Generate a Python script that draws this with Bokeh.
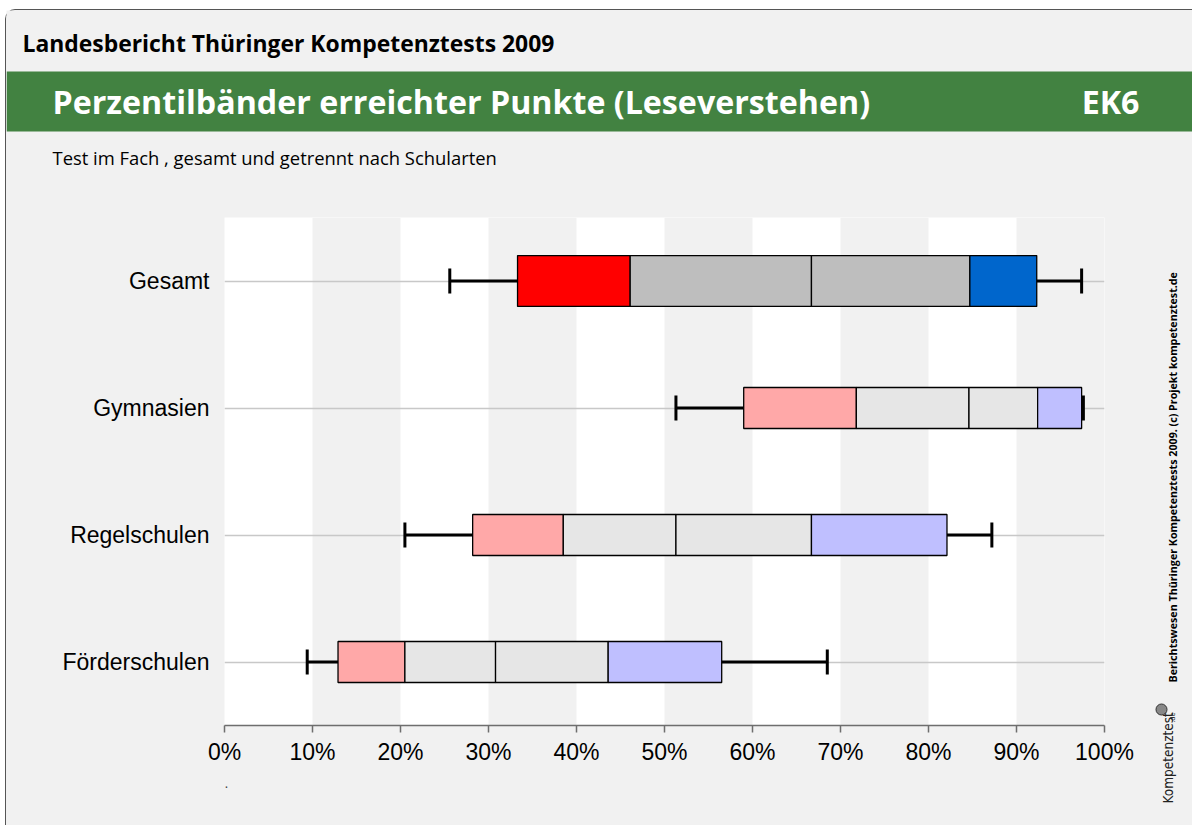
import math
from bokeh.plotting import figure
from bokeh.models import (Range1d, FactorRange, ColumnDataSource, FixedTicker,
                          PrintfTickFormatter, Title)
from bokeh.layouts import column, row
from bokeh.core.properties import value
from bokeh.embed import file_html
from bokeh.resources import INLINE

# ---------------- data ----------------
groups = ["Gesamt", "Gymnasien", "Regelschulen", "Förderschulen"]
p05 = [25.6, 51.3, 20.5, 9.4]
p10 = [33.3, 59.0, 28.2, 12.9]
p25 = [46.1, 71.8, 38.5, 20.5]
p50 = [66.7, 84.6, 51.3, 30.8]
p75 = [84.7, 92.4, 66.7, 43.6]
p90 = [92.3, 97.4, 82.1, 56.5]
p95 = [97.4, 97.6, 87.2, 68.5]
x_ticks = [0, 10, 20, 30, 40, 50, 60, 70, 80, 90, 100]

header_text = "Landesbericht Thüringer Kompetenztests 2009"
title_text = "Perzentilbänder erreichter Punkte (Leseverstehen)"
code_text = "EK6"
subtitle_text = "Test im Fach , gesamt und getrennt nach Schularten"
side_text = "Berichtswesen  Thüringer Kompetenztests 2009.  (c) Projekt kompetenztest.de"
logo_text = "Kompetenztest"

# ---------------- style ----------------
BG = "#f1f1f1"
GREEN = "#428241"
strong = ["#ff0000", "#bebebe", "#bebebe", "#0066cc"]
pale = ["#ffa8a8", "#e6e6e6", "#e6e6e6", "#bfbfff"]
HEAD_FONT = "Open Sans"
AX_FONT = "Liberation Sans"

W = 1186
TOTAL_H = 815
HEAD_H = 197
SIDE_W = 44
CHART_W = W - SIDE_W
CHART_H = TOTAL_H - HEAD_H
BAND_TOP, BAND_BOT = 61, 121


def blank(fig):
    fig.axis.visible = False
    fig.grid.visible = False
    fig.background_fill_color = BG
    fig.border_fill_color = BG
    fig.outline_line_color = None


# ---------------- header (full width) ----------------
head = figure(width=W, height=HEAD_H, x_range=Range1d(0, W),
              y_range=Range1d(HEAD_H, 0), toolbar_location=None,
              output_backend="svg", min_border=0)
blank(head)
head.quad(left=0, right=W, top=BAND_TOP, bottom=BAND_BOT,
          fill_color=GREEN, line_color=None)
head.text(x=[16], y=[33], text=[header_text], text_font=value(HEAD_FONT),
          text_font_size="22.9px", text_font_style="bold", text_color="black",
          text_baseline="middle", text_align="left")
head.text(x=[46], y=[91], text=[title_text], text_font=value(HEAD_FONT),
          text_font_size="32.2px", text_font_style="bold", text_color="white",
          text_baseline="middle", text_align="left")
head.text(x=[1133], y=[91], text=[code_text], text_font=value(HEAD_FONT),
          text_font_size="32.2px", text_font_style="bold", text_color="white",
          text_baseline="middle", text_align="right")
head.text(x=[46], y=[147], text=[subtitle_text], text_font=value(HEAD_FONT),
          text_font_size="18.4px", text_color="black",
          text_baseline="middle", text_align="left")

# ---------------- chart ----------------
factors = list(reversed(groups))
p = figure(width=CHART_W, height=CHART_H, x_range=Range1d(0, 100),
           y_range=FactorRange(factors=factors),
           toolbar_location=None, output_backend="svg",
           min_border_left=218, min_border_right=44, min_border_top=10,
           min_border_bottom=CHART_H - 10 - 508)
p.background_fill_color = "white"
p.border_fill_color = BG
p.outline_line_color = None

p.xgrid.ticker = FixedTicker(ticks=x_ticks)
p.xgrid.grid_line_color = None
p.xgrid.band_fill_color = BG
p.xgrid.band_fill_alpha = 1.0
p.ygrid.grid_line_color = "#c8c8c8"
p.ygrid.grid_line_width = 1.5

p.xaxis.ticker = FixedTicker(ticks=x_ticks)
p.xaxis.formatter = PrintfTickFormatter(format="%d%%")
p.xaxis.axis_line_color = "#6e6e6e"
p.xaxis.axis_line_width = 1.5
p.xaxis.major_tick_line_color = "#6e6e6e"
p.xaxis.major_tick_line_width = 1.5
p.xaxis.major_tick_out = 7
p.xaxis.major_tick_in = 0
p.xaxis.minor_tick_line_color = None
p.xaxis.major_label_text_font = AX_FONT
p.xaxis.major_label_text_font_size = "23px"
p.xaxis.major_label_text_color = "black"
p.xaxis.major_label_standoff = 6

p.yaxis.axis_line_color = None
p.yaxis.major_tick_line_color = None
p.yaxis.major_tick_out = 0
p.yaxis.major_tick_in = 0
p.yaxis.major_label_text_font = AX_FONT
p.yaxis.major_label_text_font_size = "23px"
p.yaxis.major_label_text_color = "black"
p.yaxis.major_label_standoff = 15

# whiskers
p.segment(x0=p05, y0=groups, x1=p10, y1=groups, line_color="black", line_width=3)
p.segment(x0=p90, y0=groups, x1=p95, y1=groups, line_color="black", line_width=3)
p.rect(x=p05, y=groups, width=3, width_units="screen", height=0.197,
       fill_color="black", line_color=None)
p.rect(x=p95, y=groups, width=3, width_units="screen", height=0.197,
       fill_color="black", line_color=None)

# boxes
seg = dict(y=[], left=[], right=[], color=[], h=[])
for i, g in enumerate(groups):
    edges = [p10[i], p25[i], p50[i], p75[i], p90[i]]
    pal = strong if g == "Gesamt" else pale
    hh = 0.40 if g == "Gesamt" else 0.323
    for k in range(4):
        seg["y"].append(g)
        seg["left"].append(edges[k])
        seg["right"].append(edges[k + 1])
        seg["color"].append(pal[k])
        seg["h"].append(hh)
src = ColumnDataSource(seg)
p.hbar(y="y", left="left", right="right", height="h", fill_color="color",
       line_color="black", line_width=1.3, source=src)

p.add_layout(Title(text=".", align="left", text_font_size="14px", standoff=17,
                   text_font_style="normal", text_font=AX_FONT), "below")

# ---------------- side strip (next to chart) ----------------
side = figure(width=SIDE_W, height=CHART_H, x_range=Range1d(0, SIDE_W),
              y_range=Range1d(CHART_H, 0), toolbar_location=None,
              output_backend="svg", min_border=0)
blank(side)
side.text(x=[24], y=[672 - HEAD_H], text=[side_text], angle=math.pi / 2,
          text_font=value(HEAD_FONT), text_font_size="10.7px", text_font_style="bold",
          text_color="black", text_align="left", text_baseline="middle")
side.text(x=[19], y=[793 - HEAD_H], text=[logo_text], angle=math.pi / 2,
          text_font=value("DejaVu Sans Condensed"), text_font_size="13.5px",
          text_color="#222222", text_align="left", text_baseline="middle")
side.text(x=[24], y=[712 - HEAD_H], text=[".de"], angle=math.pi / 2,
          text_font=value(HEAD_FONT), text_font_size="7px",
          text_color="#222222", text_align="left", text_baseline="middle")
side.scatter(x=[13], y=[699 - HEAD_H], size=11, marker="circle", fill_color="#888888",
             line_color="#333333", line_width=1)

layout = column(head, row(row(p), side), margin=(9, 0, 0, 5),
                styles={"border-top": "1px solid #555555",
                        "border-left": "1px solid #555555",
                        "border-top-left-radius": "10px",
                        "background-color": BG})

open("out.html", "w").write(file_html(layout, INLINE))
